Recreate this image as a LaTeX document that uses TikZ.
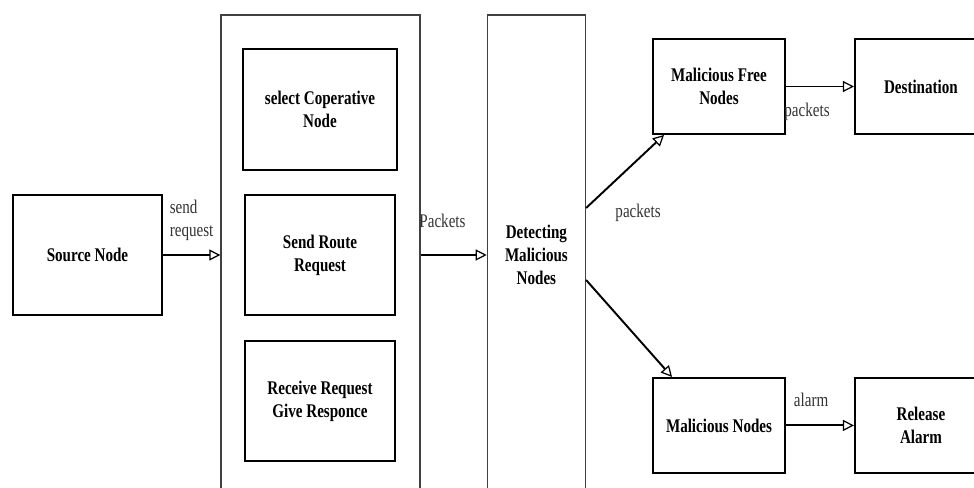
\documentclass[tikz,border=0pt]{standalone}
\usepackage{fontspec}
\setmainfont[FakeStretch=0.78]{Liberation Serif}
\usepackage{tikz}
\usetikzlibrary{positioning,fit,calc,arrows.meta,backgrounds}
\pgfdeclarelayer{background}
\pgfsetlayers{background,main}
\tikzstyle{element} = [rectangle, draw=black, line width=1.1pt, align=center, fill=white, font=\fontsize{11}{13}\selectfont\bfseries, minimum width=2.64cm, minimum height=1.9cm]
\tikzstyle{group} = [rectangle, draw=black!75, line width=0.8pt, fill=white, minimum height=9.6cm, align=center, font=\fontsize{11}{13}\selectfont\bfseries]
\tikzstyle{arrow} = [line width=1.1pt, -{Triangle[open, length=2.2mm, width=2.2mm, line width=0.7pt]}]
\tikzstyle{tag} = [text=black!80, font=\fontsize{11}{13}\selectfont, align=left]

\begin{document}
\begin{tikzpicture}
        \useasboundingbox (0,0) rectangle (19.48,-9.76);
        \clip (0,0) rectangle (19.48,-9.76);
        % Source ------------------------------------------------------------------------------------
        \node[element, minimum width=2.98cm, minimum height=2.4cm](source) at (1.75,-5.1){Source Node};
        % Route discovery ---------------------------------------------------------------------------
        \node[element, minimum width=3cm, minimum height=2.4cm](route_request) at (6.4,-5.1){Send Route\\Request};
        \node[element, minimum width=3.08cm, minimum height=2.42cm, above=4.6mm of route_request](select_node){select Coperative\\Node};
        \node[element, minimum width=3cm, minimum height=2.4cm, below=4.8mm of route_request](receive_request){Receive Request\\Give Responce};
        % Route group
        \begin{pgfonlayer}{background}
            \node[group, minimum width=3.98cm](route_group) at (6.41,-5.1){};
        \end{pgfonlayer}
        % Detection ---------------------------------------------------------------------------------
        \node[group, minimum width=1.96cm, right=1.32cm of route_group](detecting){Detecting\\Malicious\\Nodes};
        % Results -----------------------------------------------------------------------------------
        \node[element](free_nodes) at (14.38,-1.73){Malicious Free\\Nodes};
        \node[element, right=1.36cm of free_nodes](destination){Destination};
        \node[element, below=4.84cm of free_nodes](malicious_nodes){Malicious Nodes};
        \node[element, right=1.36cm of malicious_nodes](release_alarm){Release\\Alarm};
        % Arrows ------------------------------------------------------------------------------------
        \draw[arrow] (source.east) -- node[tag, pos=0.5, above, yshift=0.16cm]{send\\request} (route_group.west);
        \draw[arrow] (route_group.east) -- node[tag, pos=0.33, above, yshift=0.4cm]{Packets} (detecting.west);
        \draw[arrow] ([yshift=0.94cm]detecting.east) -- node[tag, pos=0.5, anchor=north, xshift=0.26cm, yshift=-0.52cm]{packets} ([xshift=0.24cm]free_nodes.south west);
        \draw[arrow] ([yshift=-0.5cm]detecting.east) -- ([xshift=0.4cm]malicious_nodes.north west);
        \draw[arrow] (free_nodes.east) -- node[tag, pos=0.31, below, yshift=-0.2cm]{packets} (destination.west);
        \draw[arrow] (malicious_nodes.east) -- node[tag, pos=0.37, above, yshift=0.24cm]{alarm} (release_alarm.west);
    \end{tikzpicture}
\end{document}
